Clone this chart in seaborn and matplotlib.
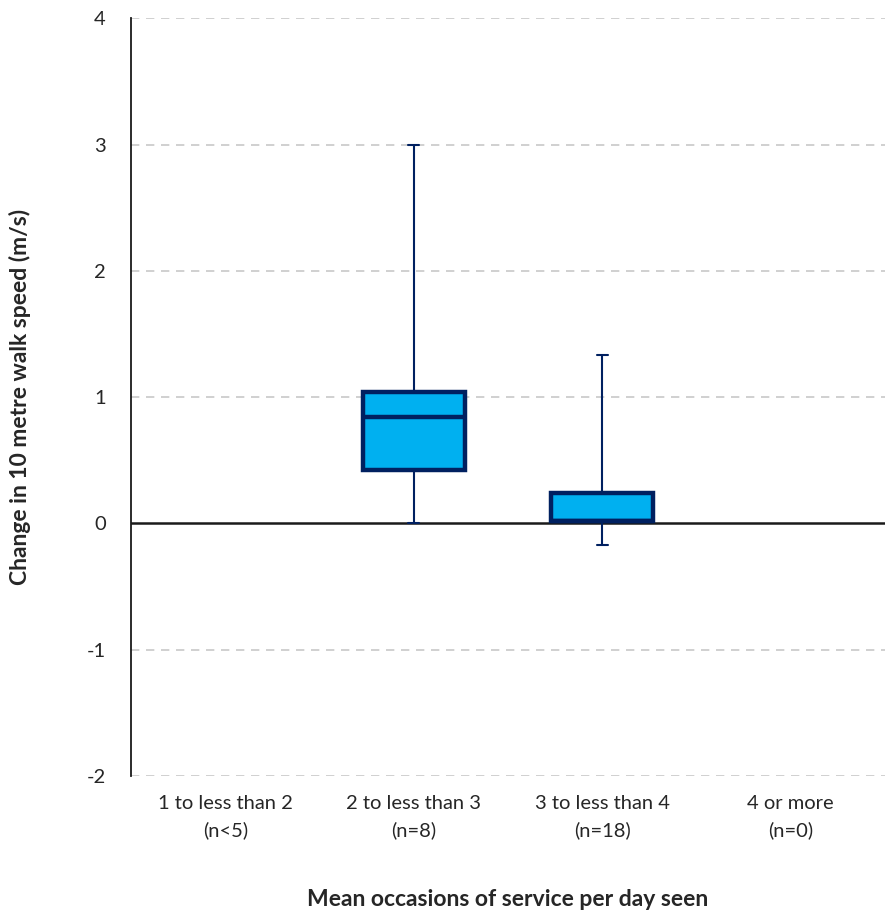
import numpy as np
import pandas as pd
import matplotlib
matplotlib.use("Agg")
import matplotlib.pyplot as plt
import seaborn as sns

# five-number summaries (min, Q1, median, Q3, max)
categories = ["1 to less than 2\n(n<5)", "2 to less than 3\n(n=8)",
              "3 to less than 4\n(n=18)", "4 or more\n(n=0)"]
cat1 = []
cat2 = [0.0, 0.42, 0.84, 1.04, 3.0]
cat3 = [-0.17, 0.02, 0.02, 0.24, 1.33]
cat4 = []
yticks = [-2, -1, 0, 1, 2, 3, 4]

rows = []
for c, vals in zip(categories, [cat1, cat2, cat3, cat4]):
    for v in vals:
        rows.append({"group": c, "value": v})
df = pd.DataFrame(rows)

sns.set_style("white")
plt.rcParams["font.family"] = ["Lato", "DejaVu Sans"]
plt.rcParams["axes.unicode_minus"] = False

fig = plt.figure(figsize=(8.85, 9.16), dpi=100)
ax = fig.add_axes([0.148, 0.153, 0.852, 0.827])

navy = "#002060"
for y in yticks:
    if y != 0:
        ax.axhline(y, color="#c8c8c8", lw=1.2, ls=(0, (5, 4)), zorder=0)
ax.axhline(0, color="#1a1a1a", lw=1.8, zorder=1)

sns.boxplot(data=df, x="group", y="value", order=categories, whis=np.inf,
            width=0.54, color="#00B0F0", saturation=1, ax=ax,
            boxprops=dict(facecolor="#00B0F0", edgecolor=navy, linewidth=3.2),
            medianprops=dict(color=navy, linewidth=3.2),
            whiskerprops=dict(color=navy, linewidth=1.5),
            capprops=dict(color=navy, linewidth=1.5),
            capwidths=0.06, zorder=3)

ax.set_ylim(-2, 4)
ax.set_xlim(-0.5, 3.5)
ax.set_yticks(yticks)
ax.set_xticks(range(len(categories)))
ax.set_xticklabels(categories, linespacing=1.6)
for s in ["top", "right", "bottom"]:
    ax.spines[s].set_visible(False)
ax.spines["left"].set_color("#1a1a1a")
ax.spines["left"].set_linewidth(1.3)
ax.tick_params(axis="both", length=0, labelsize=14.5)
ax.tick_params(axis="y", pad=18)
ax.tick_params(axis="x", pad=14)
ax.set_xlabel("Mean occasions of service per day seen", fontsize=16.5,
              fontweight="bold", labelpad=36)
ax.set_ylabel("Change in 10 metre walk speed (m/s)", fontsize=16.5,
              fontweight="bold", labelpad=40)

fig.savefig("out.png", dpi=100)
